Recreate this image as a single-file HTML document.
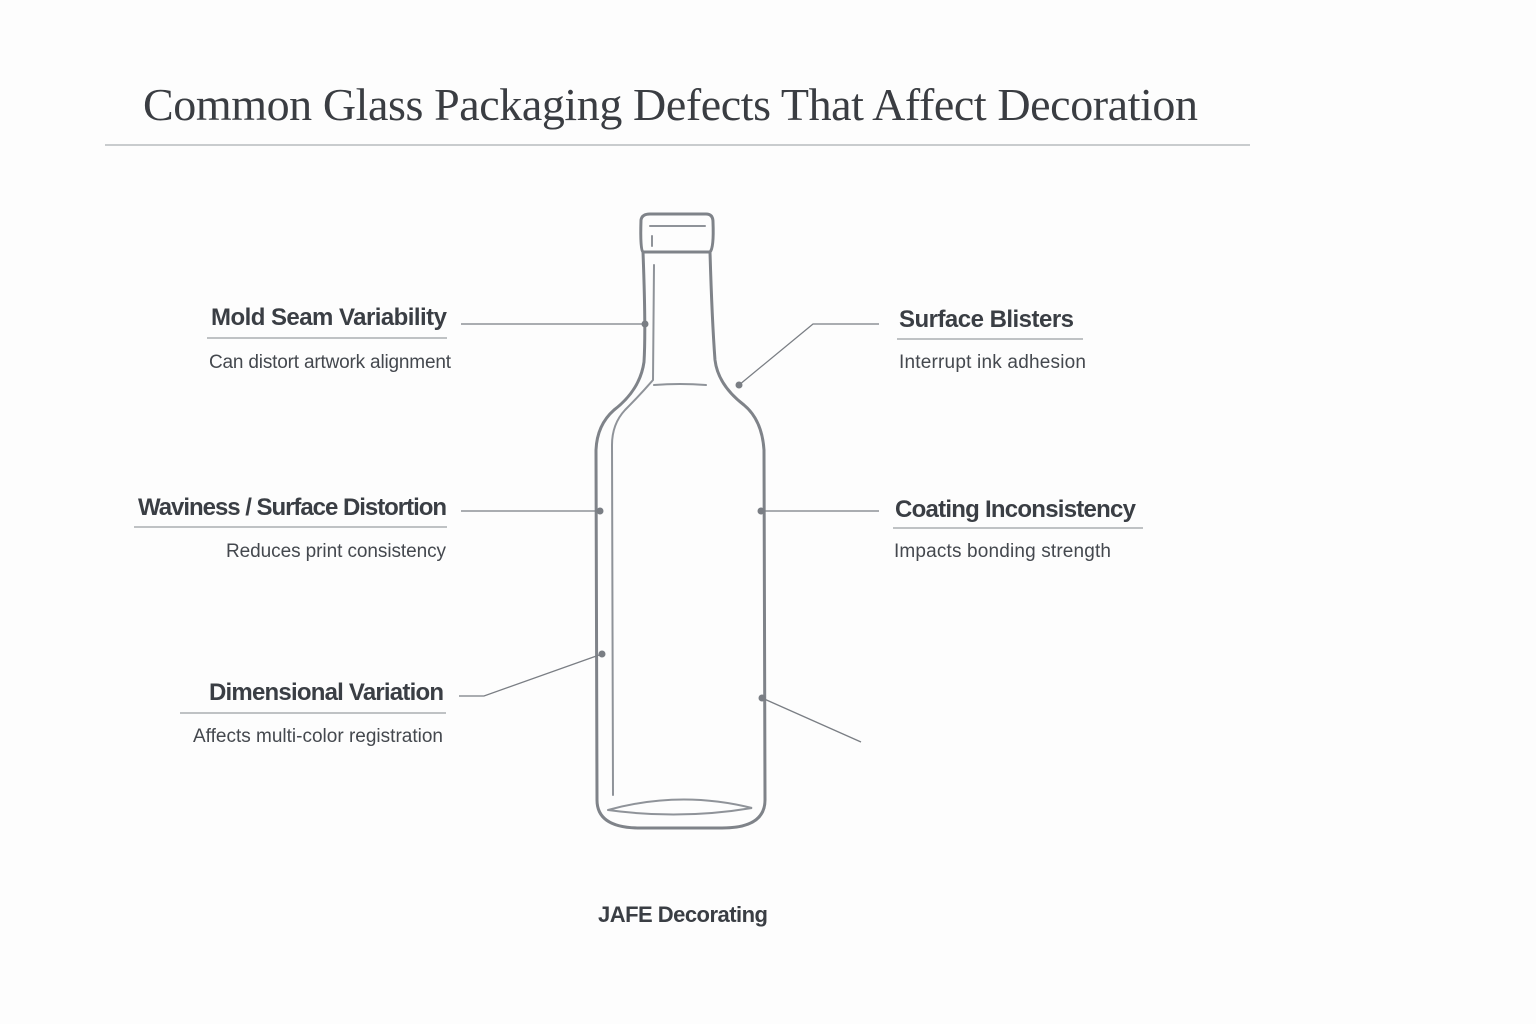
<!DOCTYPE html>
<html><head><meta charset="utf-8"><style>
body{margin:0;background:#fff;}
svg{display:block}
.h{font-family:"Liberation Sans",sans-serif;font-size:24px;font-weight:bold;fill:#3a3e44}
.s{font-family:"Liberation Sans",sans-serif;font-size:19px;fill:#44484e}
</style></head><body>
<svg width="1536" height="1024" viewBox="0 0 1536 1024" xmlns="http://www.w3.org/2000/svg">
<rect width="1536" height="1024" fill="#fdfdfd"/>
<text x="143" y="120" font-family="Liberation Serif,serif" font-size="46" fill="#3a3d42" textLength="1055">Common Glass Packaging Defects That Affect Decoration</text>
<line x1="105" y1="145" x2="1250" y2="145" stroke="#b8bbbf" stroke-width="1.5"/>
<g fill="none" stroke="#7f8389" stroke-width="3" stroke-linecap="round">
<path d="M643 252 Q640 250 641 220 Q642 214 650 214 L706 214 Q713 214 713 222 Q714 248 710 252 Z"/>
<path d="M643 252 Q646 330 644 362 Q640 390 614 410 Q597 425 596 450 L597 800 Q597 828 640 828 L722 828 Q765 828 765 800 L764 450 Q762 420 744 405 Q718 385 715 360 Q712 320 710 252"/>
</g>
<g fill="none" stroke="#8f9399" stroke-width="2" stroke-linecap="round">
<line x1="650" y1="226" x2="705" y2="226"/>
<line x1="652" y1="236" x2="652" y2="246"/>
<path d="M654 265 L653 380 Q640 395 625 410 Q612 424 612 445 L613 795"/>
<path d="M654 385 Q680 383 706 385"/>
<path d="M608 810 Q680 790 752 808 Q680 820 608 810"/>
</g>
<g stroke="#7a7e84" stroke-width="1.3" fill="none">
<line x1="461" y1="324" x2="645" y2="324"/>
<polyline points="879,324 813,324 739,385"/>
<line x1="461" y1="511" x2="600" y2="511"/>
<line x1="761" y1="511" x2="879" y2="511"/>
<polyline points="459,696 484,696 602,654"/>
<line x1="762" y1="698" x2="861" y2="742"/>
</g>
<g fill="#7a7e84">
<circle cx="645" cy="324" r="3.5"/><circle cx="739" cy="385" r="3.5"/>
<circle cx="600" cy="511" r="3.5"/><circle cx="761" cy="511" r="3.5"/>
<circle cx="602" cy="654" r="3.5"/><circle cx="762" cy="698" r="3.5"/>
</g>
<g stroke="#9a9ea3" stroke-width="1.3">
<line x1="207" y1="338" x2="447" y2="338"/>
<line x1="897" y1="339" x2="1083" y2="339"/>
<line x1="134" y1="527" x2="447" y2="527"/>
<line x1="893" y1="528" x2="1143" y2="528"/>
<line x1="180" y1="713" x2="446" y2="713"/>
</g>
<text class="h" x="211" y="325" textLength="236">Mold Seam Variability</text>
<text class="s" x="209" y="368" textLength="242">Can distort artwork alignment</text>
<text class="h" x="899" y="327" textLength="175">Surface Blisters</text>
<text class="s" x="899" y="368" textLength="187">Interrupt ink adhesion</text>
<text class="h" x="138" y="515" textLength="309">Waviness / Surface Distortion</text>
<text class="s" x="226" y="557" textLength="220">Reduces print consistency</text>
<text class="h" x="895" y="517" textLength="241">Coating Inconsistency</text>
<text class="s" x="894" y="557" textLength="217">Impacts bonding strength</text>
<text class="h" x="209" y="700" textLength="235">Dimensional Variation</text>
<text class="s" x="193" y="742" textLength="250">Affects multi-color registration</text>
<text class="h" x="598" y="922" style="font-size:22px" textLength="170">JAFE Decorating</text>
</svg>
</body></html>
